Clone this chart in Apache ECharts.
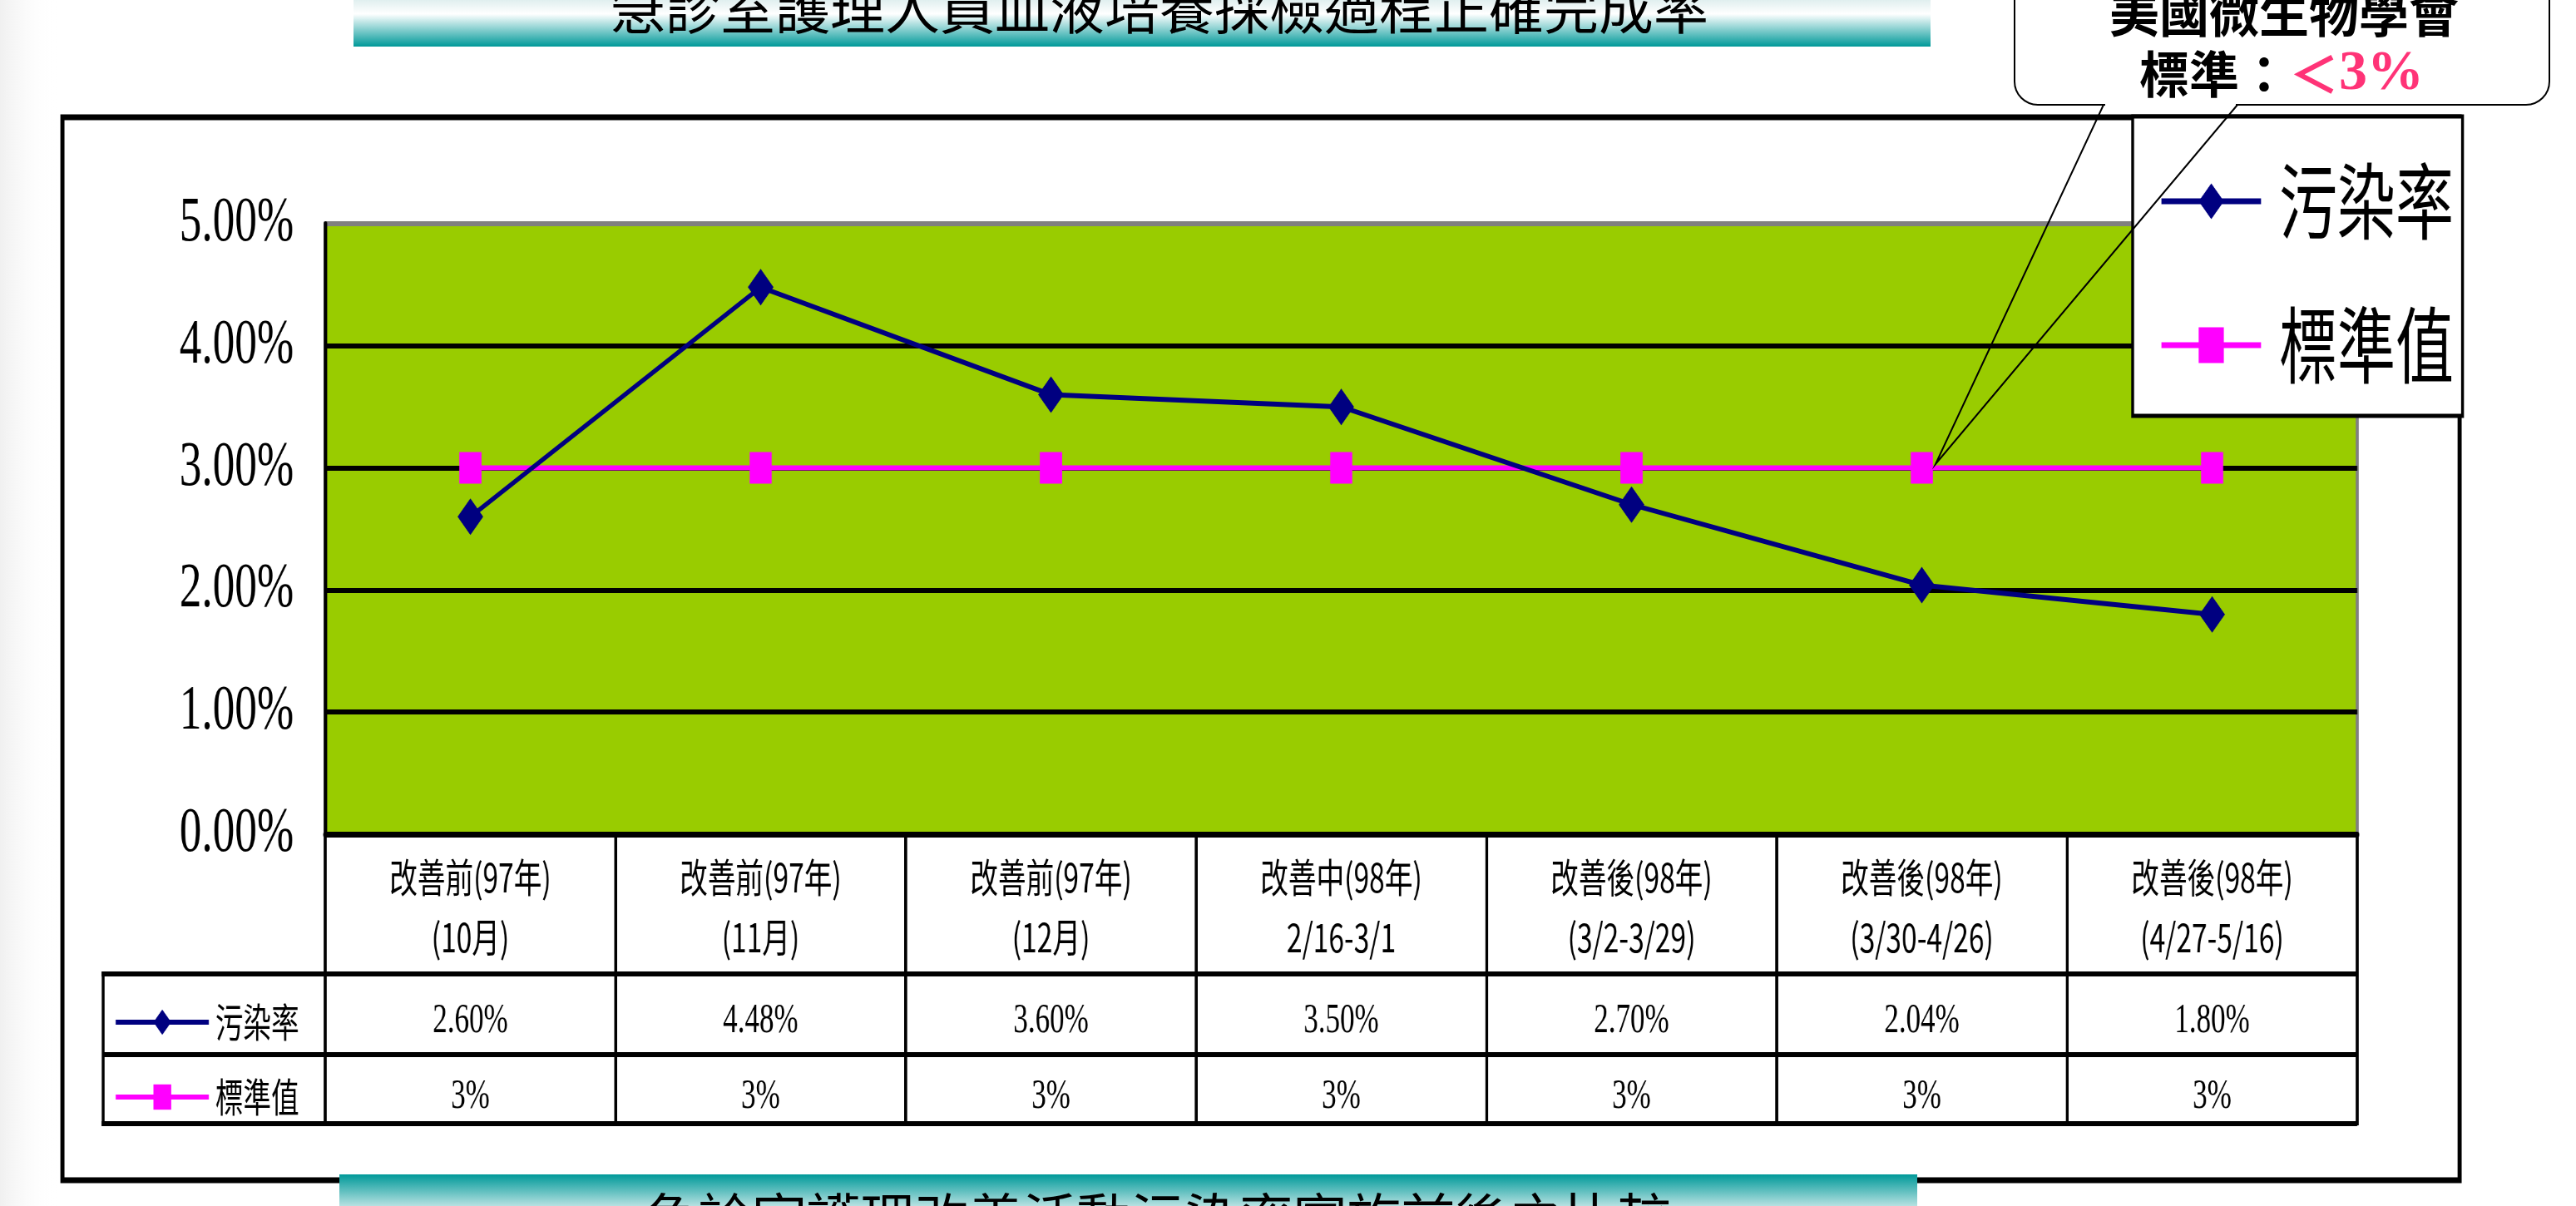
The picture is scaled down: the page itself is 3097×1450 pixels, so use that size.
<!DOCTYPE html>
<html><head><meta charset="utf-8">
<script src="https://cdn.jsdelivr.net/npm/echarts@6/dist/echarts.min.js"></script>
<style>
html,body{margin:0;padding:0;width:3097px;height:1450px;overflow:hidden;background:#fff;}
#c1{position:absolute;left:0;top:0;width:4424px;height:1450px;transform:scaleX(0.7);transform-origin:0 0;}
#c2{position:absolute;left:0;top:0;width:3097px;height:1450px;}
</style></head><body>
<div id="c1"></div><div id="c2"></div>
<script>
// ---------------- data ----------------
const categories = [
  '改善前(97年)\n(10月)',
  '改善前(97年)\n(11月)',
  '改善前(97年)\n(12月)',
  '改善中(98年)\n2/16-3/1',
  '改善後(98年)\n(3/2-3/29)',
  '改善後(98年)\n(3/30-4/26)',
  '改善後(98年)\n(4/27-5/16)'
];
const seriesNames = ['污染率', '標準值'];
const contaminationRate = [2.60, 4.48, 3.60, 3.50, 2.70, 2.04, 1.80];
const standardValue = [3, 3, 3, 3, 3, 3, 3];
const yMin = 0, yMax = 5, yStep = 1;
const titleText = '急診室護理人員血液培養採檢過程正確完成率';
const bottomText = '急診室護理改善活動污染率實施前後之比較';
const calloutLine1 = '美國微生物學會';
const calloutLabel = '標準：';
const calloutLt = '＜';
const calloutValue = '3%';

const rateText = contaminationRate.map(v => v.toFixed(2) + '%');
const stdText = standardValue.map(v => v + '%');

// ---------------- layout ----------------
const S = 0.7;              // horizontal squeeze of the chart picture
const W1 = 4424;
const u = x => x / S;       // full-page x -> chart x
const CJK = '"Noto Sans CJK TC","Noto Sans CJK SC",sans-serif';
const SERIF = '"Liberation Serif","Times New Roman",serif';

const c1 = echarts.init(document.getElementById('c1'), null, {renderer: 'canvas'});
const gridLeft = u(391), gridRightX = u(2834);

c1.setOption({
  animation: false,
  backgroundColor: 'transparent',
  grid: {
    show: true, left: gridLeft, right: W1 - gridRightX, top: 269, bottom: 1450 - 1003,
    backgroundColor: '#99CC00', borderColor: '#808080', borderWidth: 5
  },
  legend: [
    {
      data: seriesNames, orient: 'vertical', left: u(2564), top: 140,
      padding: [52, 15, 35, 46], itemWidth: 171, itemHeight: 54, itemGap: 73,
      backgroundColor: '#fff', borderColor: '#000', borderWidth: 5,
      selectedMode: false,
      lineStyle: {width: 7},
      textStyle: {fontSize: 100, lineHeight: 100, fontFamily: CJK, color: '#000', padding: [0, 0, 0, 26]}
    },
    {
      data: seriesNames, orient: 'vertical', left: u(137), top: 1205,
      padding: 0, itemWidth: 160, itemHeight: 38, itemGap: 42,
      selectedMode: false,
      lineStyle: {width: 6},
      textStyle: {fontSize: 48, lineHeight: 48, fontFamily: CJK, color: '#000', padding: [0, 0, 0, 6]}
    }
  ],
  xAxis: [
    {
      type: 'category', data: categories, position: 'bottom', boundaryGap: true,
      axisLine: {show: true, lineStyle: {color: '#000', width: 7}},
      axisTick: {show: true, length: 350, lineStyle: {color: '#000', width: 5}},
      axisLabel: {interval: 0, margin: 16, fontSize: 48, lineHeight: 72, fontFamily: CJK, color: '#000'},
      splitLine: {show: false}
    },
    {
      type: 'category', data: categories, position: 'bottom', offset: 200, boundaryGap: true,
      axisLine: {show: false}, axisTick: {show: false}, splitLine: {show: false},
      axisLabel: {interval: 0, margin: 0, fontSize: 50, lineHeight: 50, fontFamily: SERIF, color: '#000',
        formatter: (v, i) => rateText[i]}
    },
    {
      type: 'category', data: categories, position: 'bottom', offset: 291, boundaryGap: true,
      axisLine: {show: false}, axisTick: {show: false}, splitLine: {show: false},
      axisLabel: {interval: 0, margin: 0, fontSize: 50, lineHeight: 50, fontFamily: SERIF, color: '#000',
        formatter: (v, i) => stdText[i]}
    }
  ],
  yAxis: {
    type: 'value', min: yMin, max: yMax, interval: yStep,
    axisLine: {show: true, lineStyle: {color: '#000', width: 6}},
    axisTick: {show: false},
    axisLabel: {margin: 54, fontSize: 76, fontFamily: SERIF, color: '#000',
      formatter: v => v.toFixed(2) + '%'},
    splitLine: {show: true, lineStyle: {width: 6, color: ['#000', '#000', '#000', '#000', '#000', '#808080']}}
  },
  series: [
    {
      name: seriesNames[1], type: 'line', data: standardValue,
      symbol: 'rect', symbolSize: 38, showAllSymbol: true,
      lineStyle: {color: '#FF00FF', width: 6}, itemStyle: {color: '#FF00FF'}
    },
    {
      name: seriesNames[0], type: 'line', data: contaminationRate,
      symbol: 'diamond', symbolSize: 44, showAllSymbol: true,
      lineStyle: {color: '#000080', width: 6}, itemStyle: {color: '#000080'}
    }
  ],
  graphic: [
    {type: 'rect', shape: {x: u(75), y: 141, width: u(2957) - u(75), height: 1419 - 141},
     style: {fill: 'none', stroke: '#000', lineWidth: 7}, z: 1},
    {type: 'line', shape: {x1: u(122), y1: 1171, x2: gridRightX, y2: 1171}, style: {stroke: '#000', lineWidth: 6}, z: 5},
    {type: 'line', shape: {x1: u(124), y1: 1268, x2: gridRightX, y2: 1268}, style: {stroke: '#000', lineWidth: 6}, z: 5},
    {type: 'line', shape: {x1: u(122), y1: 1351, x2: gridRightX, y2: 1351}, style: {stroke: '#000', lineWidth: 6}, z: 5},
    {type: 'line', shape: {x1: u(124), y1: 1168, x2: u(124), y2: 1354}, style: {stroke: '#000', lineWidth: 5}, z: 5}
  ]
});

// ---------------- overlay (slide shapes) ----------------
const c2 = echarts.init(document.getElementById('c2'), null, {renderer: 'canvas'});
c2.setOption({
  animation: false,
  backgroundColor: 'transparent',
  graphic: [
    {type: 'rect', shape: {x: 0, y: 0, width: 70, height: 1450},
     style: {fill: {type: 'linear', x: 0, y: 0, x2: 1, y2: 0,
       colorStops: [{offset: 0, color: 'rgba(225,225,225,0.5)'}, {offset: 1, color: 'rgba(255,255,255,0)'}]}}},
    {type: 'rect', shape: {x: 425, y: 0, width: 1896, height: 56},
     style: {fill: {type: 'linear', x: 0, y: 0, x2: 0, y2: 1,
       colorStops: [{offset: 0, color: '#e0efef'}, {offset: 0.3, color: '#ffffff'}, {offset: 1, color: '#009999'}]}}},
    {type: 'text', x: 1394, y: 10,
     style: {text: titleText, fontSize: 66, fontFamily: CJK, fill: '#000', align: 'center', verticalAlign: 'middle'}},
    {type: 'rect', shape: {x: 408, y: 1412, width: 1897, height: 50},
     style: {fill: {type: 'linear', x: 0, y: 0, x2: 0, y2: 1,
       colorStops: [{offset: 0, color: '#009999'}, {offset: 1, color: '#f0f8f8'}]}}},
    {type: 'text', x: 1392, y: 1464,
     style: {text: bottomText, fontSize: 65, fontFamily: CJK, fill: '#000', align: 'center', verticalAlign: 'middle'}},
    // callout bubble
    {type: 'rect', shape: {x: 2422, y: -60, width: 643, height: 186, r: 28},
     style: {fill: '#fff', stroke: '#000', lineWidth: 2}},
    {type: 'line', shape: {x1: 2531, y1: 126, x2: 2688, y2: 126}, style: {stroke: '#fff', lineWidth: 5}},
    {type: 'polyline', shape: {points: [[2529, 126], [2327, 558], [2690, 126]]},
     style: {stroke: '#000', lineWidth: 2, fill: null}},
    {type: 'text', x: 2746, y: 16,
     style: {text: calloutLine1, fontSize: 60, fontWeight: 'bold', fontFamily: CJK, fill: '#000',
       align: 'center', verticalAlign: 'middle'}},
    {type: 'text', x: 2743, y: 89,
     style: {text: '{k|' + calloutLabel + '}{p|' + calloutLt + '}{n|' + calloutValue + '}',
       align: 'center', verticalAlign: 'middle',
       rich: {
         k: {fontSize: 60, fontWeight: 'bold', fontFamily: CJK, fill: '#000', color: '#000'},
         p: {fontSize: 60, fontWeight: 'bold', fontFamily: CJK, fill: '#FF3377', color: '#FF3377'},
         n: {fontSize: 68, fontWeight: 'bold', fontFamily: SERIF, fill: '#FF3377', color: '#FF3377'}
       }}}
  ]
});
</script>
</body></html>
